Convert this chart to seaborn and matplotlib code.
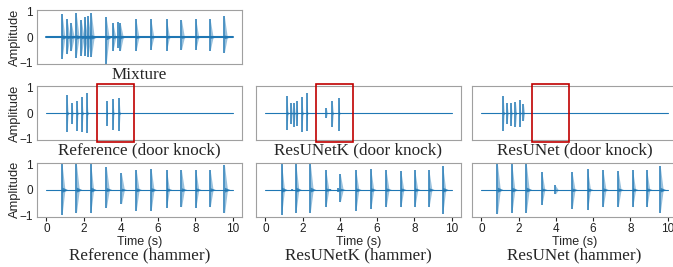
import matplotlib
matplotlib.use("Agg")
import matplotlib.pyplot as plt
import seaborn as sns
from matplotlib.patches import Rectangle

# clip length (s)
clip_start, clip_end = 0.0, 10.0

# onsets (s) and peak amplitudes
mix_t = [0.84, 1.11, 1.34, 1.60, 1.87, 2.05, 2.23, 2.41, 3.21, 3.57, 3.87, 3.97,
         4.81, 5.61, 6.45, 7.25, 8.02, 8.79, 9.55]
mix_top = [0.92, 0.70, 0.54, 0.95, 0.67, 0.79, 0.83, 0.96, 0.79, 0.54, 0.58, 0.54,
           0.70, 0.70, 0.70, 0.67, 0.70, 0.70, 0.83]
mix_bot = [-0.87, -0.68, -0.55, -0.81, -0.74, -0.74, -0.78, -0.78, -1.06, -0.55, -0.42, -0.55,
           -0.55, -0.49, -0.53, -0.49, -0.49, -0.53, -0.62]

knock_ref_t = [1.11, 1.37, 1.64, 1.91, 2.17, 3.23, 3.57, 3.90]
knock_ref_top = [0.71, 0.40, 0.47, 0.62, 0.77, 0.46, 0.54, 0.61]
knock_ref_bot = [-0.75, -0.44, -0.69, -0.75, -0.79, -0.50, -0.66, -0.71]

knock_k_t = [1.16, 1.39, 1.54, 1.68, 1.96, 2.21, 3.27, 3.59, 3.93]
knock_k_top = [0.66, 0.38, 0.41, 0.46, 0.62, 0.77, 0.20, 0.46, 0.59]
knock_k_bot = [-0.66, -0.44, -0.56, -0.50, -0.75, -0.71, -0.19, -0.56, -0.69]

knock_u_t = [1.17, 1.38, 1.59, 1.83, 2.06, 2.26, 3.40, 4.10]
knock_u_top = [0.66, 0.38, 0.41, 0.44, 0.50, 0.34, 0.02, 0.02]
knock_u_bot = [-0.69, -0.44, -0.50, -0.54, -0.56, -0.31, -0.02, -0.02]

ham_ref_t = [0.84, 1.61, 2.38, 3.22, 4.03, 4.82, 5.62, 6.45, 7.25, 8.02, 8.79, 9.56]
ham_ref_top = [1.03, 1.04, 1.05, 0.89, 0.64, 0.79, 0.83, 0.79, 0.76, 0.79, 0.79, 0.96]
ham_ref_bot = [-1.00, -0.93, -0.93, -0.71, -0.57, -0.83, -0.83, -0.71, -0.69, -0.71, -0.69, -0.93]

ham_k_t = [0.87, 1.43, 1.64, 2.41, 3.25, 3.45, 3.90, 4.02, 4.86, 5.66, 6.48, 7.27, 8.02, 8.78, 9.52]
ham_k_top = [1.04, 0.03, 1.00, 1.05, 0.76, 0.04, 0.08, 0.62, 0.76, 0.80, 0.76, 0.74, 0.76, 0.76, 0.93]
ham_k_bot = [-1.00, -0.03, -0.90, -0.90, -0.69, -0.04, -0.08, -0.49, -0.83, -0.76, -0.69, -0.69, -0.69, -0.69, -0.94]

ham_u_t = [0.86, 1.64, 2.41, 3.25, 3.97, 4.87, 5.70, 6.53, 7.34, 8.12, 8.88, 9.60]
ham_u_top = [1.04, 1.00, 1.04, 0.69, 0.17, 0.69, 0.80, 0.76, 0.74, 0.76, 0.76, 0.93]
ham_u_bot = [-0.97, -0.90, -0.90, -0.58, -0.17, -0.76, -0.80, -0.69, -0.69, -0.69, -0.69, -0.90]

titles = ["Mixture",
          "Reference (door knock)", "ResUNetK (door knock)", "ResUNet (door knock)",
          "Reference (hammer)", "ResUNetK (hammer)", "ResUNet (hammer)"]

# highlighted region on the door knock row
box_t0, box_t1 = 2.72, 4.68

sns.set_style("white")
plt.rcParams["font.family"] = ["Liberation Sans", "DejaVu Sans"]

blue = "#1f77b4"
W, H = 673, 267
fig = plt.figure(figsize=(W / 100, H / 100), dpi=100)

col_left = [37, 256, 472]
row_top = [10.3, 86.3, 163]
ax_w, ax_h = 205, 53.5


def make_ax(r, c):
    ax = fig.add_axes([col_left[c] / W, 1 - (row_top[r] + ax_h) / H, ax_w / W, ax_h / H])
    ax.set_xlim(-0.5, 10.5)
    ax.set_ylim(-1.05, 1.05)
    for s in ax.spines.values():
        s.set_color("#a0a0a0")
        s.set_linewidth(0.8)
    ax.set_yticks([-1, 0, 1])
    ax.set_xticks([0, 2, 4, 6, 8, 10])
    ax.tick_params(axis="y", length=0, pad=3, labelsize=8.5, colors="#222222")
    ax.tick_params(axis="x", length=3, width=0.8, pad=1.5, labelsize=8.5,
                   colors="#222222", direction="out", bottom=(r == 2))
    if r != 2:
        ax.set_xticklabels([])
    if c != 0:
        ax.set_yticklabels([])
    else:
        ax.set_ylabel("Amplitude", fontsize=9.3, labelpad=-1.5)
    return ax


def draw_wave(ax, onsets, top, bot, tail, base_lw=0.8):
    sns.lineplot(x=[clip_start, clip_end], y=[0, 0], ax=ax, color=blue, lw=base_lw)
    ax.vlines(onsets, bot, top, color=blue, lw=1.1)
    for t, hi, lo in zip(onsets, top, bot):
        ax.fill_between([t, t + tail], [hi, 0], [lo, 0], color=blue, alpha=0.45, lw=0)
        ax.fill_between([t, t + 2 * tail], [0.1 * hi, 0], [0.1 * lo, 0], color=blue, alpha=0.8, lw=0)


def add_title(ax, text, r):
    off = 3 if r < 2 else 31
    ax.text(0.5, -off / ax_h, text, transform=ax.transAxes, ha="center", va="top",
            fontsize=12.3, family=["Liberation Serif", "DejaVu Serif"])


panels = [
    (0, 0, mix_t, mix_top, mix_bot, 0.16, 1.5),
    (1, 0, knock_ref_t, knock_ref_top, knock_ref_bot, 0.06, 0.8),
    (1, 1, knock_k_t, knock_k_top, knock_k_bot, 0.06, 0.8),
    (1, 2, knock_u_t, knock_u_top, knock_u_bot, 0.06, 0.8),
    (2, 0, ham_ref_t, ham_ref_top, ham_ref_bot, 0.16, 0.8),
    (2, 1, ham_k_t, ham_k_top, ham_k_bot, 0.16, 0.8),
    (2, 2, ham_u_t, ham_u_top, ham_u_bot, 0.16, 0.8),
]

for (r, c, t, hi, lo, tail, blw), title in zip(panels, titles):
    ax = make_ax(r, c)
    draw_wave(ax, t, hi, lo, tail, blw)
    if r == 2:
        ax.set_xlabel("Time (s)", fontsize=9, labelpad=1)
    if r == 1:
        ax.add_patch(Rectangle((box_t0, -1.15), box_t1 - box_t0, 2.3, fill=False,
                               ec="#c00000", lw=1.2, clip_on=False, zorder=5))
    add_title(ax, title, r)

fig.savefig("out.png", dpi=100)
